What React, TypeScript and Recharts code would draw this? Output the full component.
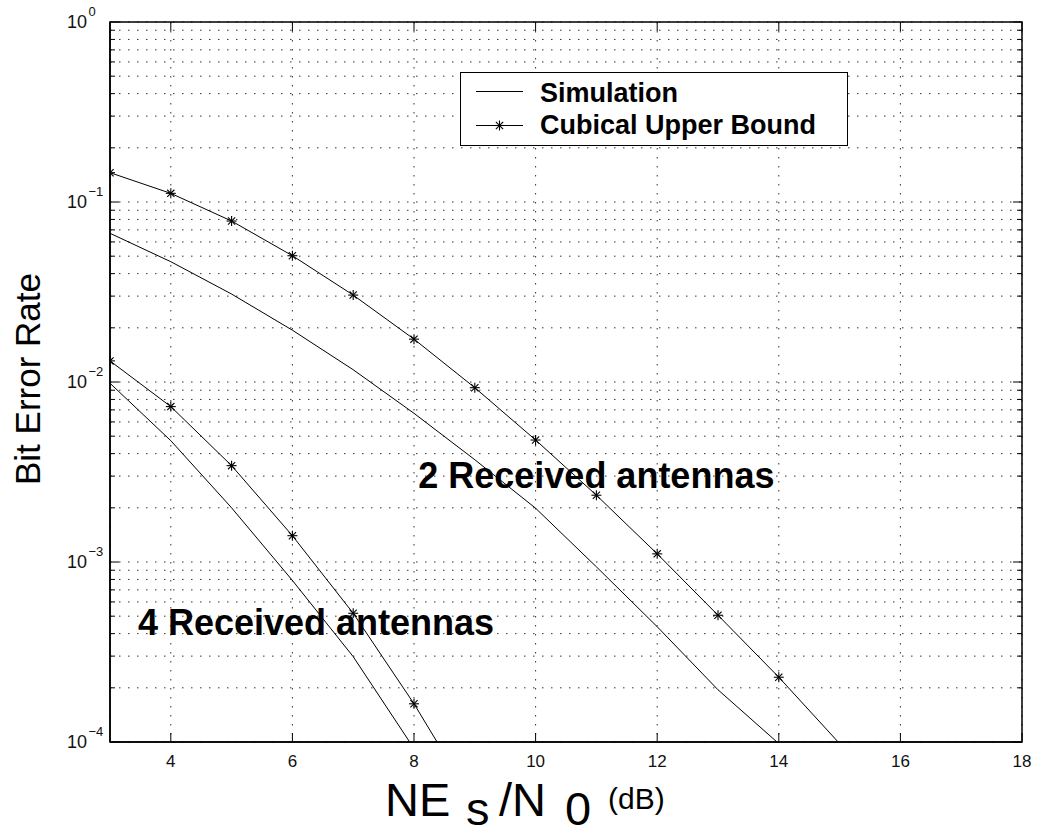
import React from 'react';
import { CartesianGrid, Legend, Line, LineChart, ReferenceArea, ReferenceDot, XAxis, YAxis } from 'recharts';

const W = 1038;
const H = 835;
const MARGIN = { top: 22, right: 16, bottom: 0, left: 0 };
const Y_AXIS_W = 110;
const X_AXIS_H = 93;
const PLOT_LEFT = MARGIN.left + Y_AXIS_W;
const PLOT_RIGHT = W - MARGIN.right;
const PLOT_TOP = MARGIN.top;
const FONT = '"Liberation Sans", Arial, sans-serif';

// Es/N0 in dB
const snr = [3, 4, 5, 6, 7, 8, 9, 10, 11, 12, 13, 14, 15];
// 2 receive antennas
const sim2 = [0.067, 0.0466, 0.0308, 0.0194, 0.0117, 0.0067, 0.0037, 0.00199, 0.00094, 0.000437, 0.000195, 0.000098, null];
const ub2 = [0.1455, 0.1117, 0.0784, 0.0503, 0.0304, 0.0173, 0.0093, 0.00476, 0.00235, 0.00111, 0.000506, 0.000229, 0.000098];
// 4 receive antennas
const sim4 = [0.00984, 0.00472, 0.002, 0.00079, 0.000298, 0.000092, null, null, null, null, null, null, null];
const ub4 = [0.0131, 0.0073, 0.00343, 0.0014, 0.000519, 0.000163, 0.000045, null, null, null, null, null, null];

const xTicks = [4, 6, 8, 10, 12, 14, 16, 18];
const decades = [-4, -3, -2, -1];
const yTicks = [...decades.flatMap((d) => [1, 2, 3, 4, 5, 6, 7, 8, 9].map((k) => k * Math.pow(10, d))), 1];

const rows = snr.map((s, i) => ({ snr: s, sim2: sim2[i], ub2: ub2[i], sim4: sim4[i], ub4: ub4[i] }));

const isDecade = (v: number) => Math.abs(Math.log10(v) - Math.round(Math.log10(v))) < 1e-6;

function YTick({ x, y, payload }: any) {
  const v = payload.value;
  const major = isDecade(v);
  const len = major ? 9 : 5;
  const exp = Math.round(Math.log10(v));
  return (
    <g>
      <line x1={PLOT_LEFT} x2={PLOT_LEFT + len} y1={y} y2={y} stroke="#000" />
      <line x1={PLOT_RIGHT - len} x2={PLOT_RIGHT} y1={y} y2={y} stroke="#000" />
      {major && (
        <g fontFamily={FONT} fill="#111">
          <text x={x - 23} y={y + 6} fontSize={18} textAnchor="end">10</text>
          <text x={x - 21.5} y={y - 6} fontSize={13} textAnchor="start">{exp === 0 ? '0' : '\u2212' + Math.abs(exp)}</text>
        </g>
      )}
    </g>
  );
}

function XTick({ x, y, payload }: any) {
  return (
    <g>
      <line x1={x} x2={x} y1={y} y2={y - 9} stroke="#000" />
      <line x1={x} x2={x} y1={PLOT_TOP} y2={PLOT_TOP + 9} stroke="#000" />
      <text x={x} y={y + 25} fontSize={17} fontFamily={FONT} textAnchor="middle" fill="#111">{payload.value}</text>
    </g>
  );
}

function XLabel() {
  const base = 816;
  return (
    <g fontFamily={FONT} fill="#000">
      <text x={385} y={base} fontSize={47}>NE</text>
      <text x={466} y={base + 9} fontSize={47}>s</text>
      <text x={499} y={base} fontSize={47}>/N</text>
      <text x={565} y={base + 9} fontSize={47}>0</text>
      <text x={608} y={base - 7} fontSize={30}>(dB)</text>
    </g>
  );
}

function YLabel() {
  return (
    <text x={40} y={379} transform="rotate(-90 40 379)" fontSize={35} fontFamily={FONT} textAnchor="middle" fill="#000">
      Bit Error Rate
    </text>
  );
}

function Star({ cx, cy, r = 5 }: { cx: number; cy: number; r?: number }) {
  const d = r * 0.72;
  return (
    <g stroke="#000" strokeWidth={1.1}>
      <line x1={cx - r} x2={cx + r} y1={cy} y2={cy} />
      <line x1={cx} x2={cx} y1={cy - r} y2={cy + r} />
      <line x1={cx - d} x2={cx + d} y1={cy - d} y2={cy + d} />
      <line x1={cx - d} x2={cx + d} y1={cy + d} y2={cy - d} />
    </g>
  );
}

function StarDot(props: any) {
  const { cx, cy, value, index } = props;
  if (cx == null || cy == null || value == null || value < 1e-4) return <g key={index} />;
  return <Star key={index} cx={cx} cy={cy} />;
}

function LegendBox() {
  return (
    <svg width={388} height={74} style={{ display: 'block' }}>
      <rect x={0.5} y={0.5} width={387} height={73} fill="#fff" stroke="#000" />
      <line x1={16} x2={63} y1={19.5} y2={19.5} stroke="#000" />
      <text x={80} y={30} fontSize={27} fontWeight="bold" fontFamily={FONT}>Simulation</text>
      <line x1={16} x2={63} y1={53.5} y2={53.5} stroke="#000" />
      <Star cx={39.5} cy={53.5} />
      <text x={80} y={62} fontSize={27} fontWeight="bold" fontFamily={FONT}>Cubical Upper Bound</text>
    </svg>
  );
}

function Annot({ viewBox, text }: any) {
  const x = viewBox.x + viewBox.width / 2;
  const y = viewBox.y + viewBox.height / 2;
  return (
    <text x={x} y={y} fontSize={36} fontWeight="bold" fontFamily={FONT} fill="#000">{text}</text>
  );
}

export default function App() {
  return (
    <div style={{ position: 'absolute', left: 0, top: 0, background: '#fff' }}>
      <LineChart width={W} height={H} data={rows} margin={MARGIN}>
        <CartesianGrid stroke="#333" strokeDasharray="1.5 7.5" />
        <XAxis
          type="number"
          dataKey="snr"
          domain={[3, 18]}
          ticks={xTicks}
          interval={0}
          allowDataOverflow
          height={X_AXIS_H}
          tickLine={false}
          tickSize={0}
          tickMargin={0}
          tick={<XTick />}
          axisLine={{ stroke: '#000', strokeWidth: 1.5 }}
          label={<XLabel />}
        />
        <YAxis
          type="number"
          scale="log"
          domain={[1e-4, 1]}
          ticks={yTicks}
          interval={0}
          allowDataOverflow
          width={Y_AXIS_W}
          tickLine={false}
          tickSize={0}
          tickMargin={0}
          tick={<YTick />}
          axisLine={{ stroke: '#000', strokeWidth: 1.5 }}
          label={<YLabel />}
        />
        <ReferenceArea x1={3} x2={18} y1={1e-4} y2={1} fill="none" stroke="#000" strokeWidth={1.5} ifOverflow="visible" />
        <Line dataKey="sim2" stroke="#000" strokeWidth={1} dot={false} isAnimationActive={false} />
        <Line dataKey="ub2" stroke="#000" strokeWidth={1} dot={<StarDot />} isAnimationActive={false} />
        <Line dataKey="sim4" stroke="#000" strokeWidth={1} dot={false} isAnimationActive={false} />
        <Line dataKey="ub4" stroke="#000" strokeWidth={1} dot={<StarDot />} isAnimationActive={false} />
        <ReferenceDot x={8.07} y={0.00258} r={1} fill="none" stroke="none" ifOverflow="visible" label={<Annot text="2 Received antennas" />} />
        <ReferenceDot x={3.46} y={0.000393} r={1} fill="none" stroke="none" ifOverflow="visible" label={<Annot text="4 Received antennas" />} />
        <Legend
          layout="vertical"
          align="center"
          verticalAlign="middle"
          wrapperStyle={{ left: 460, top: 72, width: 388, height: 74 }}
          content={<LegendBox />}
        />
      </LineChart>
    </div>
  );
}
